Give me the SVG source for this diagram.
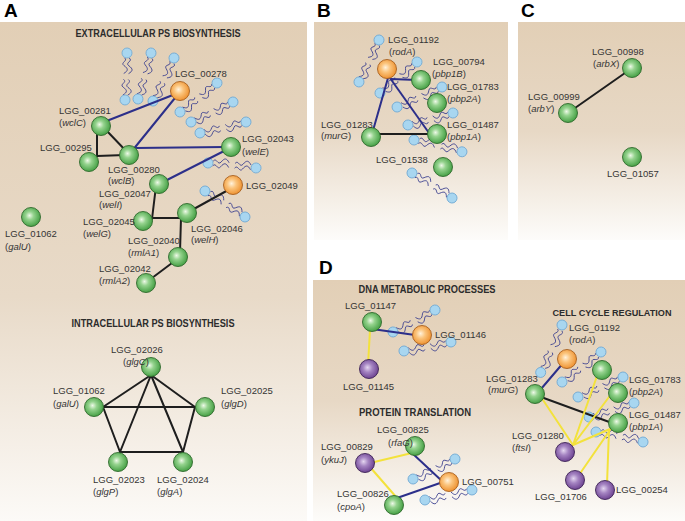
<svg xmlns="http://www.w3.org/2000/svg" xmlns:xlink="http://www.w3.org/1999/xlink" width="685" height="521" viewBox="0 0 685 521">
<defs>
<style>
.lbl{font-family:"Liberation Sans",Arial,sans-serif;font-size:9.5px;fill:#353535}
.ttl{font-family:"Liberation Sans",Arial,sans-serif;font-weight:bold;font-size:10.5px;fill:#2c2c2c;text-anchor:middle}
.pl{font-family:"Liberation Sans",Arial,sans-serif;font-weight:bold;font-size:19px;fill:#000}
.e{stroke-width:2;stroke-linecap:round;fill:none}
.eb{stroke:#2c2f8a}.ek{stroke:#1e1e1e}.ey{stroke:#f3e23c}
.ng{fill:url(#gG);stroke:#2f6a2c;stroke-width:0.9}
.no{fill:url(#gO);stroke:#a8601e;stroke-width:0.9}
.np{fill:url(#gP);stroke:#3d2356;stroke-width:0.9}
.tl{fill:none;stroke:#3a3e8e;stroke-width:0.9}
.hd{fill:#a8d6f0;stroke:#6ea7d2;stroke-width:0.8}
</style>
<radialGradient id="gG" cx="0.45" cy="0.45" r="0.6" fx="0.42" fy="0.42"><stop offset="0" stop-color="#eef9e8"/><stop offset="0.35" stop-color="#95d38e"/><stop offset="1" stop-color="#3c9a3c"/></radialGradient>
<radialGradient id="gO" cx="0.45" cy="0.45" r="0.6" fx="0.42" fy="0.42"><stop offset="0" stop-color="#fff2dc"/><stop offset="0.4" stop-color="#fbc47c"/><stop offset="1" stop-color="#ec8c28"/></radialGradient>
<radialGradient id="gP" cx="0.45" cy="0.45" r="0.6" fx="0.42" fy="0.42"><stop offset="0" stop-color="#e4d6f0"/><stop offset="0.4" stop-color="#a584c2"/><stop offset="1" stop-color="#673c8c"/></radialGradient>
<linearGradient id="bgA" x1="0" y1="0" x2="0" y2="1"><stop offset="0" stop-color="#e2cfb6"/><stop offset="0.55" stop-color="#e8dac8"/><stop offset="1" stop-color="#fcfaf7"/></linearGradient>
<linearGradient id="bgS" x1="0" y1="0" x2="0" y2="1"><stop offset="0" stop-color="#e2cfb6"/><stop offset="0.5" stop-color="#e7d8c5"/><stop offset="1" stop-color="#fdfcfa"/></linearGradient>
<path id="tails" class="tl" vector-effect="non-scaling-stroke" d="M5,-2.4 c3,-4.5 5,4.5 8,0 s5,-4.5 8,0 M5,2.4 c3,-4.5 5,4.5 8,0 s5,-4.5 8,0 M27,-2.4 c3,-4.5 5,4.5 8,0 s5,-4.5 8,0 M27,2.4 c3,-4.5 5,4.5 8,0 s5,-4.5 8,0"/>
</defs>

<g id="panels">
<rect x="0" y="22" width="307" height="499" fill="url(#bgA)"/>
<rect x="314" y="22" width="194" height="218" fill="url(#bgS)"/>
<rect x="518" y="22" width="167" height="218" fill="url(#bgS)"/>
<rect x="313" y="280" width="372" height="241" fill="url(#bgS)"/>
<text class="pl" x="4" y="17">A</text>
<text class="pl" x="317" y="17">B</text>
<text class="pl" x="521" y="17">C</text>
<text class="pl" x="319" y="274">D</text>
<text class="ttl" x="158" y="37" textLength="165" lengthAdjust="spacingAndGlyphs">EXTRACELLULAR PS BIOSYNTHESIS</text>
<text class="ttl" x="153" y="327" textLength="163" lengthAdjust="spacingAndGlyphs">INTRACELLULAR PS BIOSYNTHESIS</text>
<text class="ttl" x="427" y="293" textLength="137" lengthAdjust="spacingAndGlyphs">DNA METABOLIC PROCESSES</text>
<text class="ttl" x="415" y="416" textLength="112" lengthAdjust="spacingAndGlyphs">PROTEIN TRANSLATION</text>
<text class="ttl" x="612" y="316" font-size="9.5" textLength="119" lengthAdjust="spacingAndGlyphs" style="font-size:9.5px">CELL CYCLE REGULATION</text>
</g>

<g id="lipids">
<g transform="translate(127,53) rotate(92.4)"><use xlink:href="#tails" transform="scale(0.98,1)"/><circle class="hd" r="5"/><circle class="hd" cx="47" r="5"/></g>
<g transform="translate(151,53) rotate(105.8)"><use xlink:href="#tails" transform="scale(1,1)"/><circle class="hd" r="5"/><circle class="hd" cx="47.8" r="5"/></g>
<g transform="translate(174,58) rotate(116)"><use xlink:href="#tails" transform="scale(1,1)"/><circle class="hd" r="5"/><circle class="hd" cx="47.9" r="5"/></g>
<g transform="translate(217,83) rotate(141.9)"><use xlink:href="#tails" transform="scale(0.98,1)"/><circle class="hd" r="5"/><circle class="hd" cx="47" r="5"/></g>
<g transform="translate(233,102) rotate(154.5)"><use xlink:href="#tails" transform="scale(0.97,1)"/><circle class="hd" r="5"/><circle class="hd" cx="46.5" r="5"/></g>
<g transform="translate(246,122) rotate(166.6)"><use xlink:href="#tails" transform="scale(0.99,1)"/><circle class="hd" r="5"/><circle class="hd" cx="47.3" r="5"/></g>
<g transform="translate(208,163) rotate(5.9)"><use xlink:href="#tails" transform="scale(1,1)"/><circle class="hd" r="5"/><circle class="hd" cx="48.3" r="5"/></g>
<g transform="translate(205,191) rotate(33)"><use xlink:href="#tails" transform="scale(0.99,1)"/><circle class="hd" r="5"/><circle class="hd" cx="47.7" r="5"/></g>
<g transform="translate(379,40) rotate(115.5)"><use xlink:href="#tails" transform="scale(0.97,1)"/><circle class="hd" r="5"/><circle class="hd" cx="46.5" r="5"/></g>
<g transform="translate(417,62) rotate(140)"><use xlink:href="#tails" transform="scale(1,1)"/><circle class="hd" r="5"/><circle class="hd" cx="48.3" r="5"/></g>
<g transform="translate(442,87) rotate(156)"><use xlink:href="#tails" transform="scale(1.02,1)"/><circle class="hd" r="5"/><circle class="hd" cx="49.2" r="5"/></g>
<g transform="translate(453,113) rotate(165.1)"><use xlink:href="#tails" transform="scale(0.97,1)"/><circle class="hd" r="5"/><circle class="hd" cx="46.6" r="5"/></g>
<g transform="translate(414,140) rotate(13.8)"><use xlink:href="#tails" transform="scale(1.03,1)"/><circle class="hd" r="5"/><circle class="hd" cx="49.4" r="5"/></g>
<g transform="translate(412,173) rotate(32)"><use xlink:href="#tails" transform="scale(0.98,1)"/><circle class="hd" r="5"/><circle class="hd" cx="47.2" r="5"/></g>
<g transform="translate(435,310) rotate(152.4)"><use xlink:href="#tails" transform="scale(0.99,1)"/><circle class="hd" r="5"/><circle class="hd" cx="47.4" r="5"/></g>
<g transform="translate(451,342) rotate(169.2)"><use xlink:href="#tails" transform="scale(1,1)"/><circle class="hd" r="5"/><circle class="hd" cx="47.9" r="5"/></g>
<g transform="translate(455,459) rotate(154.5)"><use xlink:href="#tails" transform="scale(0.97,1)"/><circle class="hd" r="5"/><circle class="hd" cx="46.5" r="5"/></g>
<g transform="translate(472,490) rotate(168)"><use xlink:href="#tails" transform="scale(1,1)"/><circle class="hd" r="5"/><circle class="hd" cx="48.1" r="5"/></g>
<g transform="translate(562,325) rotate(114.2)"><use xlink:href="#tails" transform="scale(1.08,1)"/><circle class="hd" r="5"/><circle class="hd" cx="52" r="5"/></g>
<g transform="translate(601,352) rotate(142.4)"><use xlink:href="#tails" transform="scale(1.02,1)"/><circle class="hd" r="5"/><circle class="hd" cx="49.2" r="5"/></g>
<g transform="translate(623,377) rotate(156)"><use xlink:href="#tails" transform="scale(1.02,1)"/><circle class="hd" r="5"/><circle class="hd" cx="49.2" r="5"/></g>
<g transform="translate(634,403) rotate(162.7)"><use xlink:href="#tails" transform="scale(0.98,1)"/><circle class="hd" r="5"/><circle class="hd" cx="47.1" r="5"/></g>
<g transform="translate(596,432) rotate(12)"><use xlink:href="#tails" transform="scale(1,1)"/><circle class="hd" r="5"/><circle class="hd" cx="48.1" r="5"/></g>
</g>

<g id="connectors">
<line class="e eb" x1="104" y1="122" x2="178" y2="93"/>
<line class="e eb" x1="132" y1="151" x2="179" y2="93"/>
<line class="e eb" x1="135" y1="148" x2="225" y2="147"/>
<line class="e eb" x1="165" y1="181" x2="228" y2="149"/>
<line class="e ek" x1="97" y1="130" x2="97" y2="156"/>
<line class="e ek" x1="97" y1="156" x2="125" y2="155"/>
<line class="e ek" x1="106" y1="130" x2="128" y2="153"/>
<line class="e ek" x1="156" y1="186" x2="152" y2="219"/>
<line class="e ek" x1="150" y1="218" x2="181" y2="218"/>
<line class="e ek" x1="181" y1="218" x2="180" y2="252"/>
<line class="e ek" x1="192" y1="210" x2="230" y2="189"/>
<line class="e ek" x1="176" y1="260" x2="148" y2="281"/>
<line class="e ek" x1="151" y1="375" x2="103" y2="407"/>
<line class="e ek" x1="151" y1="375" x2="195" y2="407"/>
<line class="e ek" x1="151" y1="375" x2="120" y2="452"/>
<line class="e ek" x1="151" y1="375" x2="183" y2="452"/>
<line class="e ek" x1="103" y1="407" x2="195" y2="407"/>
<line class="e ek" x1="103" y1="407" x2="120" y2="452"/>
<line class="e ek" x1="195" y1="407" x2="183" y2="452"/>
<line class="e ek" x1="120" y1="452" x2="183" y2="452"/>
<line class="e eb" x1="388" y1="78" x2="372" y2="134"/>
<line class="e eb" x1="390" y1="78" x2="429" y2="133"/>
<line class="e eb" x1="391" y1="79" x2="417" y2="80"/>
<line class="e ek" x1="372" y1="134" x2="430" y2="134"/>
<line class="e ek" x1="625" y1="73" x2="575" y2="108"/>
<line class="e eb" x1="372" y1="329" x2="415" y2="335"/>
<line class="e ey" x1="370" y1="330" x2="368" y2="365"/>
<line class="e ey" x1="370" y1="463" x2="412" y2="453"/>
<line class="e ey" x1="370" y1="467" x2="397" y2="498"/>
<line class="e eb" x1="412" y1="453" x2="443" y2="482"/>
<line class="e eb" x1="397" y1="498" x2="443" y2="482"/>
<line class="e eb" x1="541" y1="389" x2="564" y2="362"/>
<line class="e ek" x1="541" y1="397" x2="612" y2="423"/>
<line class="e ey" x1="573" y1="445" x2="541" y2="397"/>
<line class="e ey" x1="573" y1="445" x2="597" y2="376"/>
<line class="e ey" x1="573" y1="445" x2="612" y2="393"/>
<line class="e ey" x1="573" y1="445" x2="610" y2="429"/>
<line class="e ey" x1="579" y1="475" x2="610" y2="430"/>
<line class="e ey" x1="607" y1="484" x2="609" y2="430"/>
</g>

<g id="n_LGG_00278"><circle class="no" cx="180" cy="91" r="9.5"/><text class="lbl" x="175" y="77">LGG_00278</text></g>
<g id="n_LGG_00281"><circle class="ng" cx="101" cy="126" r="9.5"/><text class="lbl" x="59" y="114">LGG_00281</text><text class="lbl" x="59" y="126">(<tspan font-style="italic">wclC</tspan>)</text></g>
<g id="n_LGG_00295"><circle class="ng" cx="89" cy="162" r="9.5"/><text class="lbl" x="40" y="151">LGG_00295</text></g>
<g id="n_LGG_00280"><circle class="ng" cx="129" cy="155" r="9.5"/><text class="lbl" x="108" y="173">LGG_00280</text><text class="lbl" x="108" y="184">(<tspan font-style="italic">wclB</tspan>)</text></g>
<g id="n_LGG_02043"><circle class="ng" cx="231" cy="147" r="9.5"/><text class="lbl" x="242" y="142">LGG_02043</text><text class="lbl" x="242" y="155">(<tspan font-style="italic">welE</tspan>)</text></g>
<g id="n_LGG_02047"><circle class="ng" cx="159" cy="184" r="9.5"/><text class="lbl" x="99" y="197">LGG_02047</text><text class="lbl" x="99" y="208">(<tspan font-style="italic">welI</tspan>)</text></g>
<g id="n_LGG_02049"><circle class="no" cx="233" cy="185" r="9.5"/><text class="lbl" x="246" y="189">LGG_02049</text></g>
<g id="n_LGG_02045"><circle class="ng" cx="143" cy="221" r="9.5"/><text class="lbl" x="83" y="225">LGG_02045</text><text class="lbl" x="83" y="237">(<tspan font-style="italic">welG</tspan>)</text></g>
<g id="n_LGG_02046"><circle class="ng" cx="187" cy="213" r="9.5"/><text class="lbl" x="191" y="232">LGG_02046</text><text class="lbl" x="191" y="243">(<tspan font-style="italic">welH</tspan>)</text></g>
<g id="n_LGG_02040"><circle class="ng" cx="178" cy="257" r="9.5"/><text class="lbl" x="128" y="244">LGG_02040</text><text class="lbl" x="128" y="256">(<tspan font-style="italic">rmlA1</tspan>)</text></g>
<g id="n_LGG_02042"><circle class="ng" cx="146" cy="283" r="9.5"/><text class="lbl" x="99" y="272">LGG_02042</text><text class="lbl" x="99" y="284">(<tspan font-style="italic">rmlA2</tspan>)</text></g>
<g id="n_LGG_01062_a"><circle class="ng" cx="31" cy="217" r="9.5"/><text class="lbl" x="5" y="237">LGG_01062</text><text class="lbl" x="5" y="250">(<tspan font-style="italic">galU</tspan>)</text></g>

<g id="n_LGG_02026"><circle class="ng" cx="151" cy="367" r="9.5"/><text class="lbl" x="111" y="353">LGG_02026</text><text class="lbl" x="123" y="365">(<tspan font-style="italic">glgC</tspan>)</text></g>
<g id="n_LGG_01062_b"><circle class="ng" cx="94" cy="407" r="9.5"/><text class="lbl" x="53" y="394">LGG_01062</text><text class="lbl" x="53" y="407">(<tspan font-style="italic">galU</tspan>)</text></g>
<g id="n_LGG_02025"><circle class="ng" cx="205" cy="407" r="9.5"/><text class="lbl" x="221" y="394">LGG_02025</text><text class="lbl" x="221" y="407">(<tspan font-style="italic">glgD</tspan>)</text></g>
<g id="n_LGG_02023"><circle class="ng" cx="118" cy="462" r="9.5"/><text class="lbl" x="93" y="483">LGG_02023</text><text class="lbl" x="93" y="495">(<tspan font-style="italic">glgP</tspan>)</text></g>
<g id="n_LGG_02024"><circle class="ng" cx="183" cy="462" r="9.5"/><text class="lbl" x="157" y="483">LGG_02024</text><text class="lbl" x="157" y="495">(<tspan font-style="italic">glgA</tspan>)</text></g>

<g id="n_B_LGG_01192"><circle class="no" cx="387" cy="69" r="9.5"/><text class="lbl" x="388" y="43">LGG_01192</text><text class="lbl" x="389" y="55">(<tspan font-style="italic">rodA</tspan>)</text></g>
<g id="n_B_LGG_00794"><circle class="ng" cx="421" cy="80" r="9.5"/><text class="lbl" x="433" y="65">LGG_00794</text><text class="lbl" x="432" y="77">(<tspan font-style="italic">pbp1B</tspan>)</text></g>
<g id="n_B_LGG_01783"><circle class="ng" cx="437" cy="103" r="9.5"/><text class="lbl" x="447" y="90">LGG_01783</text><text class="lbl" x="447" y="102">(<tspan font-style="italic">pbp2A</tspan>)</text></g>
<g id="n_B_LGG_01487"><circle class="ng" cx="437" cy="134" r="9.5"/><text class="lbl" x="447" y="128">LGG_01487</text><text class="lbl" x="447" y="140">(<tspan font-style="italic">pbp1A</tspan>)</text></g>
<g id="n_B_LGG_01283"><circle class="ng" cx="371" cy="137" r="9.5"/><text class="lbl" x="321" y="128">LGG_01283</text><text class="lbl" x="321" y="139">(<tspan font-style="italic">murG</tspan>)</text></g>
<g id="n_B_LGG_01538"><circle class="ng" cx="443" cy="167" r="9.5"/><text class="lbl" x="376" y="163">LGG_01538</text></g>

<g id="n_LGG_00998"><circle class="ng" cx="632" cy="68" r="9.5"/><text class="lbl" x="592" y="55">LGG_00998</text><text class="lbl" x="593" y="67">(<tspan font-style="italic">arbX</tspan>)</text></g>
<g id="n_LGG_00999"><circle class="ng" cx="568" cy="113" r="9.5"/><text class="lbl" x="528" y="100">LGG_00999</text><text class="lbl" x="528" y="112">(<tspan font-style="italic">arbY</tspan>)</text></g>
<g id="n_LGG_01057"><circle class="ng" cx="632" cy="157" r="9.5"/><text class="lbl" x="607" y="177">LGG_01057</text></g>

<g id="n_LGG_01147"><circle class="ng" cx="372" cy="322" r="9.5"/><text class="lbl" x="345" y="309">LGG_01147</text></g>
<g id="n_LGG_01146"><circle class="no" cx="422" cy="335" r="9.5"/><text class="lbl" x="435" y="338">LGG_01146</text></g>
<g id="n_LGG_01145"><circle class="np" cx="369" cy="369" r="9.5"/><text class="lbl" x="343" y="390">LGG_01145</text></g>
<g id="n_LGG_00825"><circle class="ng" cx="415" cy="446" r="9.5"/><text class="lbl" x="377" y="433">LGG_00825</text><text class="lbl" x="388" y="446">(<tspan font-style="italic">rfaG</tspan>)</text></g>
<g id="n_LGG_00829"><circle class="np" cx="365" cy="463" r="9.5"/><text class="lbl" x="321" y="450">LGG_00829</text><text class="lbl" x="321" y="463">(<tspan font-style="italic">ykuJ</tspan>)</text></g>
<g id="n_LGG_00751"><circle class="no" cx="449" cy="482" r="9.5"/><text class="lbl" x="462" y="485">LGG_00751</text></g>
<g id="n_LGG_00826"><circle class="ng" cx="394" cy="505" r="9.5"/><text class="lbl" x="337" y="497">LGG_00826</text><text class="lbl" x="337" y="510">(<tspan font-style="italic">cpoA</tspan>)</text></g>

<g id="n_D_LGG_01192"><circle class="no" cx="567" cy="359" r="9.5"/><text class="lbl" x="569" y="331">LGG_01192</text><text class="lbl" x="569" y="343">(<tspan font-style="italic">rodA</tspan>)</text></g>
<g id="n_D_LGG_00794"><circle class="ng" cx="602" cy="370" r="9.5"/></g>
<g id="n_D_LGG_01783"><circle class="ng" cx="618" cy="393" r="9.5"/><text class="lbl" x="629" y="383">LGG_01783</text><text class="lbl" x="629" y="395">(<tspan font-style="italic">pbp2A</tspan>)</text></g>
<g id="n_D_LGG_01487"><circle class="ng" cx="618" cy="423" r="9.5"/><text class="lbl" x="629" y="418">LGG_01487</text><text class="lbl" x="629" y="430">(<tspan font-style="italic">pbp1A</tspan>)</text></g>
<g id="n_D_LGG_01283"><circle class="ng" cx="535" cy="394" r="9.5"/><text class="lbl" x="486" y="382">LGG_01283</text><text class="lbl" x="488" y="393">(<tspan font-style="italic">murG</tspan>)</text></g>
<g id="n_LGG_01280"><circle class="np" cx="565" cy="452" r="9.5"/><text class="lbl" x="512" y="439">LGG_01280</text><text class="lbl" x="512" y="451">(<tspan font-style="italic">ftsI</tspan>)</text></g>
<g id="n_LGG_01706"><circle class="np" cx="575" cy="480" r="9.5"/><text class="lbl" x="535" y="500">LGG_01706</text></g>
<g id="n_LGG_00254"><circle class="np" cx="605" cy="490" r="9.5"/><text class="lbl" x="616" y="493">LGG_00254</text></g>
</svg>
